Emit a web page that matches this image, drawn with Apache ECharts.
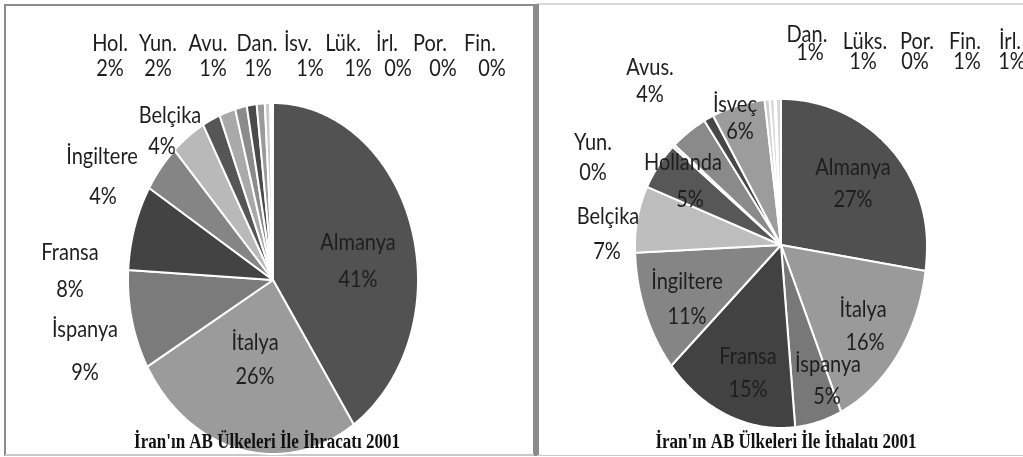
<!DOCTYPE html>
<html>
<head>
<meta charset="utf-8">
<title>İran'ın AB Ülkeleri ile Dış Ticareti 2001</title>
<script src="https://cdn.jsdelivr.net/npm/echarts@6/dist/echarts.min.js"></script>
<style>
  html, body { margin: 0; background: #fff; }
  #chart { width: 1023px; height: 457px; }
</style>
</head>
<body>
<div id="chart"></div>
<script>
// ihracat 2001 (sol pasta)
const exportNames = ["Almanya", "İtalya", "İspanya", "Fransa", "İngiltere", "Belçika", "Hol.", "Yun.", "Avu.", "Dan.", "İsv.", "Lük.", "İrl.", "Por.", "Fin."];
const exportValues = [40.6, 26.1, 9.2, 7.8, 4.4, 3.9, 2.0, 1.8, 1.3, 1.1, 0.9, 0.6, 0.1, 0.1, 0.1];

// ithalat 2001 (sag pasta)
const importNames = ["Almanya", "İtalya", "İspanya", "Fransa", "İngiltere", "Belçika", "Hollanda", "Yun.", "Avus.", "Dan.", "İsveç", "Lüks.", "İrl.", "Por.", "Fin."];
const importValues = [27.3, 16.0, 5.2, 15.1, 10.8, 7.2, 5.2, 0.3, 4.2, 1.1, 5.9, 0.55, 0.55, 0.15, 0.55];

const titles = ["İran'ın AB Ülkeleri İle İhracatı 2001", "İran'ın AB Ülkeleri İle İthalatı 2001"];

// gri tonlar
const exportColors = ["#525252", "#9b9b9b", "#7b7b7b", "#434343", "#858585", "#b9b9b9", "#565656", "#a9a9a9", "#8b8b8b", "#4a4a4a", "#9a9a9a", "#c9c9c9", "#dadada", "#e2e2e2", "#efefef"];
const importColors = ["#505050", "#9a9a9a", "#787878", "#424242", "#858585", "#bdbdbd", "#575757", "#d0d0d0", "#8a8a8a", "#474747", "#9c9c9c", "#cfcfcf", "#dcdcdc", "#e4e4e4", "#d6d6d6"];

// etiket yerleri [adX, adY, yuzdeX, yuzdeY]
const exportLabelPos = [
  [358, 243, 358, 280], [255, 343, 255, 377], [85, 330, 85, 373], [70, 253, 70, 290],
  [102, 157, 103, 197], [170, 116, 162, 147], [110, 44, 110, 69], [158, 44, 158, 69],
  [208, 44, 213, 69], [257, 44, 258, 69], [298, 44, 310, 69], [343, 44, 358, 69],
  [387, 44, 398, 69], [430, 44, 443, 69], [480, 44, 492, 69]
];
const importLabelPos = [
  [853, 168, 853, 200], [863, 310, 865, 343], [828, 365, 827, 397], [748, 357, 748, 390],
  [687, 282, 687, 317], [608, 217, 607, 252], [683, 163, 690, 200], [593, 143, 593, 173],
  [650, 68, 650, 95], [807, 35, 810, 53], [735, 105, 740, 132], [865, 42, 863, 62],
  [1010, 42, 1012, 62], [917, 42, 915, 62], [965, 42, 967, 62]
];

// pasta: merkez, yatay yaricap, ust/alt dikey yaricap (resim dikeyde gerilmis)
const exportPie = { cx: 273, cy: 280, rx: 145, ryTop: 177, ryBottom: 174 };
const importPie = { cx: 781, cy: 245, rx: 146, ryTop: 146, ryBottom: 183 };

const labelFont = "20px Lato, 'Liberation Sans', sans-serif";
const textStretch = 1.15;

function labelText(text, x, y) {
  return {
    type: "text",
    z2: 10,
    x: x, y: y, scaleY: textStretch,
    style: { text: text, x: 0, y: 0, fill: "#1e1e1e", font: labelFont, align: "center", verticalAlign: "middle" }
  };
}

function piePoint(pie, ang) {
  const c = Math.cos(ang);
  const ry = c > 0 ? pie.ryTop : pie.ryBottom;
  return [pie.cx + pie.rx * Math.sin(ang), pie.cy - ry * c];
}

// dilim: tepe noktasi + kenar noktalari (saat yonunde, 12'den baslar)
function pieSeries(names, values, colors, labelPos, pie) {
  const total = values.reduce((a, b) => a + b, 0);
  const starts = [];
  let acc = 0;
  values.forEach((v) => { starts.push(acc); acc += v; });

  return {
    type: "custom",
    coordinateSystem: "none",
    data: values.map((v, i) => ({ name: names[i], value: v })),
    renderItem(params, api) {
      const i = params.dataIndex;
      const v = api.value(0);
      const a0 = (2 * Math.PI * starts[i]) / total;
      const a1 = a0 + (2 * Math.PI * v) / total;
      const steps = Math.max(2, Math.ceil((a1 - a0) / 0.01));
      const pts = [[pie.cx, pie.cy]];
      for (let k = 0; k <= steps; k++) pts.push(piePoint(pie, a0 + ((a1 - a0) * k) / steps));
      const pct = Math.round((v / total) * 100) + "%";
      const p = labelPos[i];
      return {
        type: "group",
        children: [
          {
            type: "polygon",
            shape: { points: pts },
            style: { fill: colors[i], stroke: "#fff", lineWidth: 2, lineJoin: "round" }
          },
          labelText(names[i], p[0], p[1]),
          labelText(pct, p[2], p[3])
        ]
      };
    }
  };
}

const titleStyle = (t, x) => ({
  type: "text", z: 20, x: x, y: 443, scaleY: 1.2,
  style: { text: t, x: 0, y: 0, font: "bold 17px 'Liberation Serif', serif", fill: "#111", align: "center", verticalAlign: "middle" }
});

const chart = echarts.init(document.getElementById("chart"));
chart.setOption({
  animation: false,
  graphic: [
    // cerceveler
    { type: "rect", shape: { x: 5, y: 5, width: 529, height: 450 }, style: { fill: "none", stroke: "#8c8c8c", lineWidth: 2 } },
    { type: "line", shape: { x1: 5, y1: 455, x2: 534, y2: 455 }, style: { stroke: "#c8c8c8", lineWidth: 2 } },
    { type: "line", shape: { x1: 537, y1: 4, x2: 1023, y2: 4 }, style: { stroke: "#b4b4b4", lineWidth: 1 } },
    { type: "line", shape: { x1: 537, y1: 4, x2: 537, y2: 456 }, style: { stroke: "#8c8c8c", lineWidth: 4 } },
    { type: "line", shape: { x1: 537, y1: 455.5, x2: 1023, y2: 455.5 }, style: { stroke: "#c8c8c8", lineWidth: 1 } },
    // basliklar
    titleStyle(titles[0], 267),
    titleStyle(titles[1], 786)
  ],
  series: [
    pieSeries(exportNames, exportValues, exportColors, exportLabelPos, exportPie),
    pieSeries(importNames, importValues, importColors, importLabelPos, importPie)
  ]
});
</script>
</body>
</html>
